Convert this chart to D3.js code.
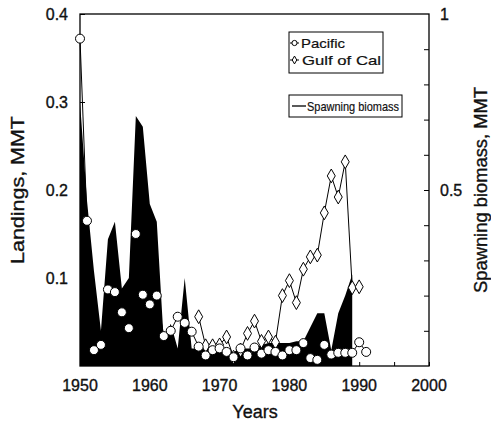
<!DOCTYPE html>
<meta charset="UTF-8">
<style>
body { margin: 0; background: #fff; }
svg text { font-family: "Liberation Sans", Arial, sans-serif; fill: #111; stroke: #111; stroke-width: 0.35px; }
.tick-lbl { font-size: 16px; }
.title { font-size: 18px; }
.leg { font-size: 13px; stroke-width: 0.2px; }
</style>
<svg width="491" height="424"></svg>
<script src="https://d3js.org/d3.v7.min.js"></script>
<script>
// years shared by the series
var years = d3.range(1950, 1992);

// spawning biomass, MMT (right axis), 1950-1989
var biomassYears = d3.range(1950, 1990);
var biomass = [0.75, 0.47, 0.27, 0.10, 0.36, 0.41, 0.22, 0.25, 0.71, 0.68,
               0.46, 0.41, 0.07, 0.12, 0.05, 0.25, 0.05, 0.05, 0.05, 0.06,
               0.05, 0.04, 0.04, 0.05, 0.05, 0.05, 0.06, 0.065, 0.065, 0.065,
               0.065, 0.07, 0.07, 0.11, 0.15, 0.15, 0.045, 0.15, 0.2, 0.26];

// Pacific landings, MMT (left axis), 1950-1991
var pacific = [0.372, 0.165, 0.018, 0.024, 0.087, 0.084, 0.061, 0.043, 0.150, 0.081,
               0.070, 0.080, 0.034, 0.040, 0.056, 0.049, 0.039, 0.022, 0.012, 0.018,
               0.020, 0.016, 0.010, 0.020, 0.012, 0.021, 0.014, 0.018, 0.016, 0.012,
               0.018, 0.018, 0.026, 0.009, 0.007, 0.024, 0.013, 0.015, 0.015, 0.015,
               0.027, 0.016];

// Gulf of California landings, MMT (left axis), 1967-1990
var gulfYears = d3.range(1967, 1991);
var gulf = [0.056, 0.023, 0.023, 0.024, 0.033, 0.010, 0.018, 0.037, 0.051, 0.028,
            0.033, 0.027, 0.080, 0.097, 0.072, 0.110, 0.124, 0.126, 0.174, 0.216,
            0.192, 0.232, 0.089, 0.090];

var xTicks = [1950, 1960, 1970, 1980, 1990, 2000];
var yLeftTicks = [0.1, 0.2, 0.3, 0.4];
var yRightTicks = [0.5, 1];

var svg = d3.select("svg");
var x0 = 80, x1 = 429, y0 = 14, y1 = 366;

var x = d3.scaleLinear().domain([1950, 2000]).range([x0, x1]);
var yL = d3.scaleLinear().domain([0, 0.4]).range([y1, y0]);
var yR = d3.scaleLinear().domain([0, 1]).range([y1, y0]);

// spawning biomass area
var bio = biomassYears.map((yr, i) => ({yr: yr, v: biomass[i]}));
svg.append("path")
    .datum(bio)
    .attr("fill", "#000")
    .attr("d", d3.area().x(d => x(d.yr)).y0(y1).y1(d => yR(d.v)));

// frame
svg.append("rect")
    .attr("x", x0).attr("y", y0)
    .attr("width", x1 - x0).attr("height", y1 - y0)
    .attr("fill", "none").attr("stroke", "#000").attr("stroke-width", 1.3);

// axes, ticks inward
svg.append("g").attr("transform", `translate(0,${y1})`)
    .call(d3.axisBottom(x).tickValues(d3.range(1950, 2001, 5)).tickSize(-4).tickFormat(""))
    .call(g => g.select(".domain").remove());
svg.append("g").attr("transform", `translate(${x0},0)`)
    .call(d3.axisLeft(yL).tickValues(yLeftTicks).tickSize(-5).tickFormat(""))
    .call(g => g.select(".domain").remove());
svg.append("g").attr("transform", `translate(${x1},0)`)
    .call(d3.axisRight(yR).tickValues(d3.range(0.1, 1.0, 0.1)).tickSize(-5).tickFormat(""))
    .call(g => g.select(".domain").remove());

svg.selectAll(".xl").data(xTicks).enter().append("text")
    .attr("class", "tick-lbl").attr("x", d => x(d)).attr("y", 391)
    .attr("text-anchor", "middle").text(d => d);
svg.selectAll(".yl").data(yLeftTicks).enter().append("text")
    .attr("class", "tick-lbl").attr("x", 68).attr("y", d => yL(d) + 6)
    .attr("text-anchor", "end").text(d => d);
svg.selectAll(".yr").data(yRightTicks).enter().append("text")
    .attr("class", "tick-lbl").attr("x", 440).attr("y", d => yR(d) + 6)
    .text(d => d);

svg.append("text").attr("class", "title")
    .attr("x", 255).attr("y", 418).attr("text-anchor", "middle").text("Years");
svg.append("text").attr("class", "title")
    .attr("transform", "translate(24,190) rotate(-90)")
    .attr("text-anchor", "middle")
    .attr("textLength", 148).attr("lengthAdjust", "spacingAndGlyphs")
    .text("Landings, MMT");
svg.append("text").attr("class", "title")
    .attr("transform", "translate(487,190) rotate(-90)")
    .attr("text-anchor", "middle")
    .attr("textLength", 206).attr("lengthAdjust", "spacingAndGlyphs")
    .text("Spawning biomass, MMT");

// Pacific landings
var pac = years.map((yr, i) => ({yr: yr, v: pacific[i]}));
var line = d3.line().x(d => x(d.yr)).y(d => yL(d.v));
svg.append("path").datum(pac)
    .attr("fill", "none").attr("stroke", "#000").attr("stroke-width", 1)
    .attr("d", line);

// Gulf of California landings
var gc = gulfYears.map((yr, i) => ({yr: yr, v: gulf[i]}));
svg.append("path").datum(gc)
    .attr("fill", "none").attr("stroke", "#000").attr("stroke-width", 1)
    .attr("d", line);

var diamond = d3.symbol().type(d3.symbolDiamond).size(55);
svg.selectAll(".gm").data(gc).enter().append("path")
    .attr("transform", d => `translate(${x(d.yr)},${yL(d.v)})`)
    .attr("d", diamond)
    .attr("fill", "#fff").attr("stroke", "#000").attr("stroke-width", 1);

svg.selectAll(".pm").data(pac).enter().append("circle")
    .attr("cx", d => x(d.yr)).attr("cy", d => yL(d.v)).attr("r", 4.5)
    .attr("fill", "#fff").attr("stroke", "#000").attr("stroke-width", 1);

// legends
var lg = svg.append("g");
lg.append("rect").attr("x", 289).attr("y", 32).attr("width", 94).attr("height", 41)
    .attr("fill", "#fff").attr("stroke", "#000");
lg.append("line").attr("x1", 290).attr("x2", 299).attr("y1", 43).attr("y2", 43).attr("stroke", "#000");
lg.append("circle").attr("cx", 294.5).attr("cy", 43).attr("r", 2.6)
    .attr("fill", "#fff").attr("stroke", "#000");
lg.append("text").attr("class", "leg").attr("x", 301).attr("y", 47.5)
    .attr("textLength", 44).attr("lengthAdjust", "spacingAndGlyphs").text("Pacific");
lg.append("line").attr("x1", 290).attr("x2", 299).attr("y1", 60).attr("y2", 60).attr("stroke", "#000");
lg.append("path").attr("transform", "translate(294.5,60)")
    .attr("d", d3.symbol().type(d3.symbolDiamond).size(18))
    .attr("fill", "#fff").attr("stroke", "#000");
lg.append("text").attr("class", "leg").attr("x", 302).attr("y", 64.5)
    .attr("textLength", 79).attr("lengthAdjust", "spacingAndGlyphs").text("Gulf of Cal");

lg.append("rect").attr("x", 289).attr("y", 95).attr("width", 113).attr("height", 22)
    .attr("fill", "#fff").attr("stroke", "#000");
lg.append("line").attr("x1", 292).attr("x2", 306).attr("y1", 106).attr("y2", 106)
    .attr("stroke", "#000").attr("stroke-width", 1.3);
lg.append("text").attr("class", "leg").attr("x", 307).attr("y", 110.5)
    .attr("textLength", 92).attr("lengthAdjust", "spacingAndGlyphs").text("Spawning biomass");
</script>
